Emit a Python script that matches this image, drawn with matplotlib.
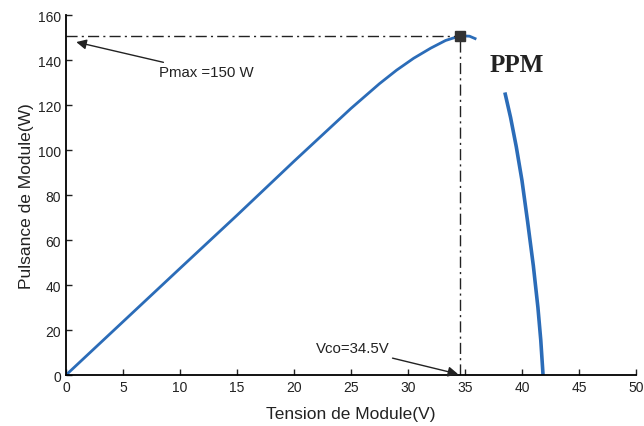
import matplotlib.pyplot as plt

# courbe P-V du module (deux branches, la partie pres du PPM est cachee par l'etiquette)
v_left = [0, 5, 10, 15, 20, 25, 27.5, 29, 30.5, 32, 33.3, 34.6, 35.4, 36.0]
p_left = [0, 23.7, 47.4, 71, 95, 118.5, 129.5, 135.5, 140.8, 145.3, 148.7, 150.8, 150.6, 149.3]
v_right = [38.5, 39.0, 39.5, 40.0, 40.5, 41.0, 41.4, 41.65, 41.85]
p_right = [125.6, 114.5, 101.5, 86.5, 68.0, 48.5, 30.0, 15.5, 0]

v_mpp = 34.6
p_mpp = 150.5

x_ticks = [0, 5, 10, 15, 20, 25, 30, 35, 40, 45, 50]
y_ticks = [0, 20, 40, 60, 80, 100, 120, 140, 160]

plt.rcParams['font.family'] = ['Liberation Sans', 'DejaVu Sans']

fig = plt.figure(figsize=(6.44, 4.27), dpi=100)
ax = fig.add_axes([0.1025, 0.1194, 0.885, 0.843])

blue = '#2b6cb8'
ax.plot(v_left, p_left, color=blue, lw=2.0, solid_capstyle='butt')
ax.plot(v_right, p_right, color=blue, lw=2.6, solid_capstyle='butt', solid_joinstyle='round')

# lignes de repere
ax.plot([0, v_mpp], [p_mpp, p_mpp], color='#222222', lw=1.0, ls='-.', dashes=(8, 3, 1.5, 3))
ax.plot([v_mpp, v_mpp], [0, p_mpp], color='#222222', lw=1.0, ls='-.', dashes=(8, 3, 1.5, 3))
ax.plot([v_mpp], [p_mpp], marker='s', ms=7, color='#333333', zorder=5)

ax.annotate('Pmax =150 W', xy=(0.9, 148), xytext=(8.2, 134.5), fontsize=10.8,
            va='center', ha='left', color='#222222',
            arrowprops=dict(arrowstyle='-|>', color='#222222', lw=1.0,
                            mutation_scale=15, shrinkA=1, shrinkB=0))
ax.annotate('Vco=34.5V', xy=(34.4, 0.4), xytext=(28.4, 11.8), fontsize=10.8,
            va='center', ha='right', color='#222222',
            arrowprops=dict(arrowstyle='-|>', color='#222222', lw=1.0,
                            mutation_scale=15, shrinkA=0, shrinkB=0))

ax.text(39.5, 138, 'PPM', fontsize=18, fontweight='bold', family='Liberation Serif',
        color='#222222', ha='center', va='center')

ax.set_xlim(0, 50)
ax.set_ylim(0, 160)
ax.set_xticks(x_ticks)
ax.set_yticks(y_ticks)
ax.tick_params(direction='in', length=4, labelsize=10, colors='#222222', width=1.0)
ax.spines['top'].set_visible(False)
ax.spines['right'].set_visible(False)
ax.spines['left'].set_linewidth(1.3)
ax.spines['bottom'].set_linewidth(1.3)

ax.set_xlabel('Tension de Module(V)', fontsize=12.5, color='#222222', labelpad=9)
ax.set_ylabel('Pulsance de Module(W)', fontsize=12.5, color='#222222', labelpad=3)

fig.savefig('out.png', dpi=100)
